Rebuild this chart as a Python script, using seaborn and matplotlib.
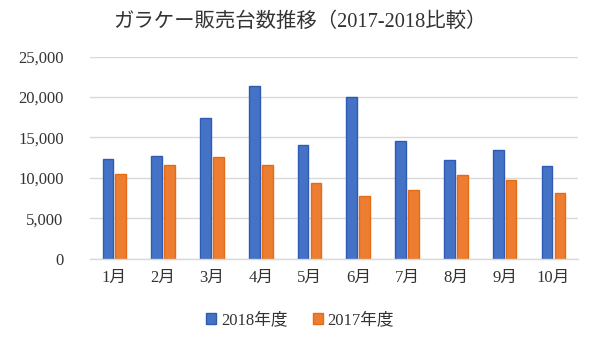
import matplotlib
matplotlib.use("Agg")
import matplotlib.pyplot as plt
import seaborn as sns
import pandas as pd
from matplotlib.patches import Patch
from matplotlib.ticker import FuncFormatter

months = ["1月", "2月", "3月", "4月", "5月", "6月", "7月", "8月", "9月", "10月"]
sales_2018 = [12300, 12700, 17400, 21400, 14050, 19980, 14550, 12220, 13500, 11420]
sales_2017 = [10450, 11650, 12550, 11650, 9350, 7750, 8560, 10380, 9750, 8080]
series = ["2018年度", "2017年度"]
title = "ガラケー販売台数推移（2017-2018比較）"

df = pd.DataFrame({
    "month": months * 2,
    "sales": sales_2018 + sales_2017,
    "year": [series[0]] * len(months) + [series[1]] * len(months),
})

sns.set_theme(style="white")
fonts = ["Liberation Serif", "Noto Sans CJK JP", "DejaVu Sans"]
plt.rcParams["font.family"] = fonts

fill = {series[0]: "#4472C4", series[1]: "#ED7D31"}
edge = {series[0]: "#2F5BB7", series[1]: "#E56B15"}
txt = "#333333"

fig = plt.figure(figsize=(6, 3.37), dpi=100)
ax = fig.add_axes([0.15, 0.232, 0.813, 0.6])

sns.barplot(data=df, x="month", y="sales", hue="year", palette=fill,
            width=0.53, gap=0.17, ax=ax, legend=False, saturation=1)
for i, cont in enumerate(ax.containers):
    for bar in cont:
        bar.set_edgecolor(edge[series[i]])
        bar.set_linewidth(1.0)

ax.set_ylim(0, 25000)
ax.set_yticks(range(0, 25001, 5000))
ax.yaxis.set_major_formatter(FuncFormatter(lambda v, p: f"{int(v):,}"))
ax.set_xlim(-0.5, len(months) - 0.5)
ax.grid(axis="y", color="#D9D9D9", linewidth=1)
ax.set_axisbelow(True)
for s in ["top", "right", "left"]:
    ax.spines[s].set_visible(False)
ax.spines["bottom"].set_color("#D9D9D9")
ax.spines["bottom"].set_linewidth(1)
ax.set_xlabel("")
ax.set_ylabel("")
ax.tick_params(axis="both", length=0, labelsize=12, colors=txt)
ax.tick_params(axis="y", pad=19)
ax.tick_params(axis="x", pad=8)

fig.text(0.5, 0.935, title, ha="center", va="center", fontsize=14.7,
         color=txt, family=fonts)

handles = [Patch(facecolor=fill[s], edgecolor=edge[s], label=s) for s in series]
fig.legend(handles=handles, loc="center", bbox_to_anchor=(0.5, 0.05), ncol=2,
           frameon=False, fontsize=12, handlelength=0.6, handleheight=0.6,
           handletextpad=0.3, columnspacing=1.5, labelcolor=txt)

fig.savefig("out.png", dpi=100)
